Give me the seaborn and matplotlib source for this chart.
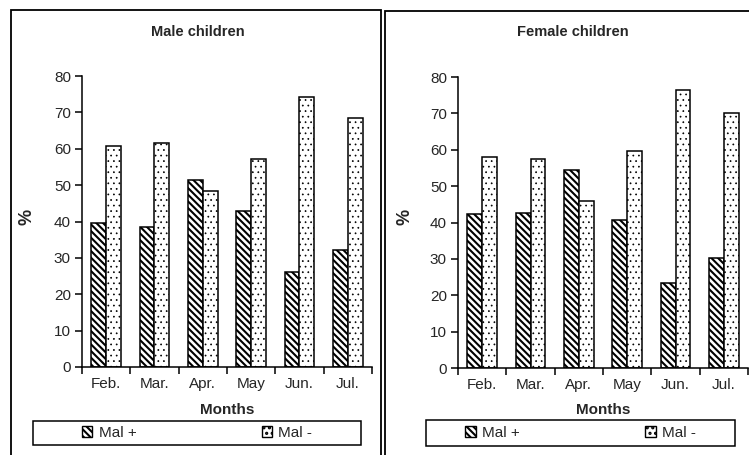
import pandas as pd
import seaborn as sns
import matplotlib.pyplot as plt
from matplotlib.patches import Patch, Rectangle

# Dados
meses = ["Feb.", "Mar.", "Apr.", "May", "Jun.", "Jul."]
grupos = ["Mal +", "Mal -"]
masc_pos = [39.5, 38.4, 51.4, 42.9, 26.2, 32.1]
masc_neg = [60.8, 61.6, 48.5, 57.2, 74.2, 68.4]
fem_pos = [42.3, 42.7, 54.5, 40.6, 23.3, 30.2]
fem_neg = [57.9, 57.4, 45.8, 59.7, 76.3, 70.1]
titulos = ["Male children", "Female children"]
yticks = [0, 10, 20, 30, 40, 50, 60, 70, 80]


def montar(pos, neg):
    return pd.DataFrame({
        "Mês": meses * 2,
        "Valor": pos + neg,
        "Grupo": [grupos[0]] * len(meses) + [grupos[1]] * len(meses),
    })


sns.set_theme(style="white")
plt.rcParams["font.family"] = ["Liberation Sans", "DejaVu Sans"]
plt.rcParams["hatch.linewidth"] = 1.5

W, H = 749, 455
fig = plt.figure(figsize=(W / 100, H / 100), dpi=100)

hachuras = ["\\\\\\\\\\", "..."]
larg_hachura = [1.5, 0.5]
paineis = [
    # eixo (px): x0, x1, y_top, y_bottom ; moldura ; legenda ; centro titulo ; ylabel x
    dict(ax=(82, 372, 76, 367), frame=(11, 10, 381, 460), leg=(33, 421, 361, 445),
         tx=198, lx=27, mx=227),
    dict(ax=(458, 748, 77, 368), frame=(385, 11, 760, 460), leg=(426, 420, 735, 446),
         tx=573, lx=405, mx=603),
]


def hachurar(patch, h, lw):
    patch.set_hatch(h)
    try:
        patch.set_hatch_linewidth(lw)
    except AttributeError:
        pass


for i, (pos, neg) in enumerate([(masc_pos, masc_neg), (fem_pos, fem_neg)]):
    p = paineis[i]
    x0, x1, yt, yb = p["ax"]
    ax = fig.add_axes([x0 / W, 1 - yb / H, (x1 - x0) / W, (yb - yt) / H])
    df = montar(pos, neg)
    sns.barplot(data=df, x="Mês", y="Valor", hue="Grupo", hue_order=grupos,
                palette=["white", "white"], edgecolor="black", linewidth=1.1,
                width=0.62, legend=False, ax=ax)
    for cont, h, lw in zip(ax.containers, hachuras, larg_hachura):
        for barra in cont:
            hachurar(barra, h, lw)

    ax.set_ylim(0, 80)
    ax.set_yticks(yticks)
    ax.set_xlim(-0.5, len(meses) - 0.5)
    ax.set_xticks([k - 0.5 for k in range(len(meses) + 1)], minor=True)
    ax.tick_params(axis="x", which="major", length=0, labelsize=11, pad=7)
    ax.tick_params(axis="x", which="minor", length=5, width=1.1, direction="out",
                   bottom=True, color="black")
    ax.tick_params(axis="y", length=5, width=1.1, direction="out", left=True,
                   labelsize=11, color="black", pad=3)
    for s in ["top", "right"]:
        ax.spines[s].set_visible(False)
    for s in ["left", "bottom"]:
        ax.spines[s].set_color("black")
        ax.spines[s].set_linewidth(1.1)
    ax.set_xlabel("")
    ax.set_ylabel("")

    # titulo e rótulos
    fig.text(p["tx"] / W, 1 - 32 / H, titulos[i], ha="center", va="center",
             fontsize=10.5, fontweight="bold")
    fig.text(p["lx"] / W, 1 - 217 / H, "%", ha="center", va="center",
             rotation=90, fontsize=13, fontweight="bold")
    fig.text(p["mx"] / W, 1 - 410 / H, "Months", ha="center", va="center",
             fontsize=11, fontweight="bold")

    # moldura do painel
    fx0, fy0, fx1, fy1 = p["frame"]
    fig.patches.append(Rectangle((fx0 / W, 1 - fy1 / H), (fx1 - fx0) / W, (fy1 - fy0) / H,
                                 transform=fig.transFigure, fill=False,
                                 edgecolor="black", linewidth=1.3))

    # caixa da legenda
    lx0, ly0, lx1, ly1 = p["leg"]
    fig.patches.append(Rectangle((lx0 / W, 1 - ly1 / H), (lx1 - lx0) / W, (ly1 - ly0) / H,
                                 transform=fig.transFigure, fill=False,
                                 edgecolor="black", linewidth=1.1))
    handles = []
    for h, g, lw in zip(hachuras, grupos, larg_hachura):
        hd = Patch(facecolor="white", edgecolor="black", label=g)
        hachurar(hd, h, lw)
        handles.append(hd)
    fig.legend(handles=handles, loc="center", ncol=2, frameon=False,
               bbox_to_anchor=((lx0 + lx1) / 2 / W, 1 - (ly0 + ly1) / 2 / H),
               fontsize=11, handlelength=0.7, handleheight=0.7,
               handletextpad=0.4, columnspacing=8.2)

plt.savefig("out.png", dpi=100)
